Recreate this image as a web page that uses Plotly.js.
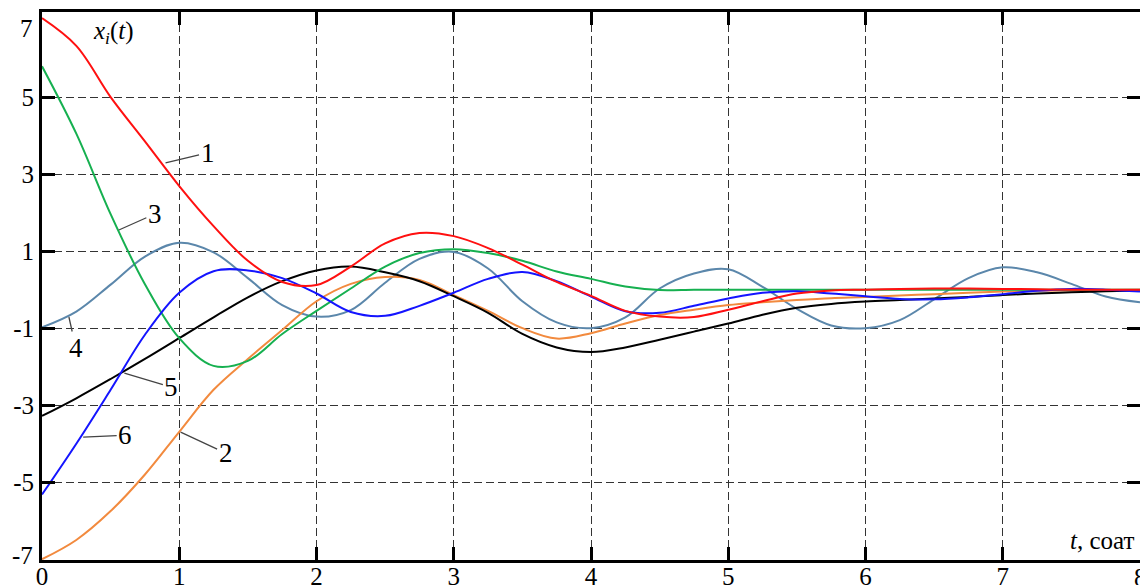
<!DOCTYPE html>
<html>
<head>
<meta charset="utf-8">
<script src="https://cdn.plot.ly/plotly-3.0.1.min.js"></script>
<style>
  html, body { margin: 0; padding: 0; background: #fff; }
  #chart { width: 1140px; height: 585px; }
</style>
</head>
<body>
<div id="chart"></div>
<script>
// time grid (hours)
const t = [0, 0.25, 0.5, 0.75, 1, 1.25, 1.5, 1.75, 2, 2.25, 2.5, 2.75, 3, 3.25, 3.5, 3.75,
           4, 4.25, 4.5, 4.75, 5, 5.25, 5.5, 5.75, 6, 6.25, 6.5, 6.75, 7, 7.25, 7.5, 7.75, 8];

// curve 1 (red)
const x1 = [7.05, 6.33, 5.0, 3.85, 2.69, 1.65, 0.75, 0.2, 0.12, 0.6, 1.2, 1.47, 1.39, 1.08, 0.65, 0.2,
            -0.16, -0.55, -0.7, -0.71, -0.52, -0.3, -0.1, -0.02, 0.0, 0.02, 0.03, 0.03, 0.02, 0.01, 0.0, 0.0, 0.0];
// curve 2 (orange)
const x2 = [-7.0, -6.5, -5.75, -4.8, -3.69, -2.6, -1.8, -1.05, -0.3, 0.15, 0.33, 0.25, -0.14, -0.55, -1.0, -1.27,
            -1.13, -0.88, -0.66, -0.52, -0.4, -0.33, -0.27, -0.22, -0.19, -0.15, -0.12, -0.08, -0.05, -0.03, -0.02, -0.01, 0.0];
// curve 3 (green)
const x3 = [5.8, 4.05, 1.96, 0.14, -1.26, -1.98, -1.85, -1.15, -0.55, 0.03, 0.6, 0.95, 1.05, 0.95, 0.75, 0.47,
            0.28, 0.08, -0.01, 0.0, 0.0, 0.0, 0.0, 0.0, 0.0, 0.0, 0.0, 0.0, 0.0, 0.0, 0.0, 0.0, 0.0];
// curve 4 (steel blue)
const x4 = [-0.98, -0.57, 0.13, 0.86, 1.22, 0.97, 0.3, -0.4, -0.7, -0.53, 0.18, 0.8, 0.98, 0.55, -0.3, -0.85,
            -1.0, -0.72, 0.03, 0.42, 0.53, 0.07, -0.5, -0.93, -1.0, -0.79, -0.25, 0.3, 0.58, 0.45, 0.15, -0.18, -0.33];
// curve 5 (black)
const x5 = [-3.28, -2.82, -2.32, -1.8, -1.26, -0.72, -0.2, 0.22, 0.5, 0.6, 0.45, 0.22, -0.17, -0.6, -1.15, -1.5,
            -1.62, -1.5, -1.3, -1.09, -0.88, -0.65, -0.47, -0.37, -0.31, -0.27, -0.23, -0.19, -0.14, -0.1, -0.07, -0.04, -0.02];
// curve 6 (blue)
const x6 = [-5.32, -4.0, -2.6, -1.17, -0.08, 0.48, 0.5, 0.3, -0.1, -0.58, -0.68, -0.42, -0.08, 0.28, 0.46, 0.22,
            -0.18, -0.56, -0.6, -0.42, -0.23, -0.08, -0.04, -0.1, -0.17, -0.24, -0.25, -0.2, -0.12, -0.03, 0.02, 0.0, -0.05];

const xTickVals = [0, 1, 2, 3, 4, 5, 6, 7, 8];
const xTickText = ['0', '1', '2', '3', '4', '5', '6', '7', '8'];
const yTickVals = [5, 3, 1, -1, -3, -5];
const yTickText = ['5', '3', '1', '-1', '-3', '-5'];
const yEndLabels = ['7', '-7'];
const yEndVals = [7, -7];

// curve labels: name, point on the curve (t, x)
const curveLabels = ['1', '3', '4', '5', '6', '2'];
const labelT = [0.90, 0.56, 0.196, 0.60, 0.30, 1.01];
const labelX = [3.29, 1.55, -0.71, -2.17, -3.83, -3.70];

const SERIF = 'Liberation Serif';

function tr(y, color) {
  return { x: t, y: y, type: 'scatter', mode: 'lines',
           line: { color: color, width: 2, shape: 'spline', smoothing: 1.0 },
           hoverinfo: 'skip', showlegend: false };
}

const data = [
  tr(x4, '#5b87ab'),
  tr(x2, '#f28a3e'),
  tr(x5, '#000000'),
  tr(x3, '#16b050'),
  tr(x6, '#1414ff'),
  tr(x1, '#ff1010')
];

const labelOffsets = [[42, -10], [36, -16], [7, 31], [47, 14], [42, -2], [45, 21]];
const annotations = curveLabels.map((txt, i) => ({
  x: labelT[i], y: labelX[i], xref: 'x', yref: 'y', text: txt,
  showarrow: true, arrowhead: 0, arrowwidth: 1.3, arrowcolor: '#444',
  ax: labelOffsets[i][0], ay: labelOffsets[i][1],
  font: { family: SERIF, size: 27, color: '#000' }
}));

yEndLabels.forEach((txt, i) => {
  annotations.push({
    x: 0, xref: 'paper', y: yEndVals[i], yref: 'y', text: txt, showarrow: false,
    xanchor: 'right', yanchor: 'middle', xshift: -7, yshift: i === 0 ? -8 : 4,
    font: { family: SERIF, size: 25, color: '#000' }
  });
});
// last x tick label, partly outside the window as in the reference
annotations.push({
  x: 8, xref: 'x', y: 0, yref: 'paper', text: '8', showarrow: false,
  xanchor: 'center', yanchor: 'top', yshift: -2,
  font: { family: SERIF, size: 25, color: '#000' }
});

annotations.push({
  x: 0.045, xref: 'paper', y: 0.962, yref: 'paper', xanchor: 'left', yanchor: 'middle',
  text: '<i>x<sub>i</sub></i>(<i>t</i>)', showarrow: false,
  font: { family: SERIF, size: 25, color: '#000' }
});
annotations.push({
  x: 0.996, xref: 'paper', y: 0.035, yref: 'paper', xanchor: 'right', yanchor: 'middle',
  text: '<i>t</i>, соат', showarrow: false,
  font: { family: SERIF, size: 25, color: '#000' }
});

const layout = {
  width: 1140, height: 585,
  margin: { l: 42, r: 0, t: 12, b: 25 },
  paper_bgcolor: '#fff', plot_bgcolor: '#fff',
  showlegend: false,
  font: { family: SERIF, color: '#000' },
  xaxis: {
    range: [0, 8], tickvals: xTickVals, ticktext: xTickText,
    showgrid: true, gridcolor: '#333', gridwidth: 1, griddash: '8px,4px',
    zeroline: false, showline: true, linecolor: '#000', linewidth: 3, mirror: 'ticks',
    ticks: 'inside', ticklen: 13, tickwidth: 3, tickcolor: '#000',
    ticklabelstandoff: -8,
    tickfont: { family: SERIF, size: 25, color: '#000' }
  },
  yaxis: {
    range: [-7.02, 7.21], tickvals: yTickVals, ticktext: yTickText,
    showgrid: true, gridcolor: '#333', gridwidth: 1, griddash: '8px,4px',
    zeroline: false, showline: true, linecolor: '#000', linewidth: 3, mirror: 'ticks',
    ticks: 'inside', ticklen: 13, tickwidth: 3, tickcolor: '#000',
    tickfont: { family: SERIF, size: 25, color: '#000' }
  },
  annotations: annotations
};

Plotly.newPlot('chart', data, layout, { staticPlot: true, displayModeBar: false });
</script>
</body>
</html>
